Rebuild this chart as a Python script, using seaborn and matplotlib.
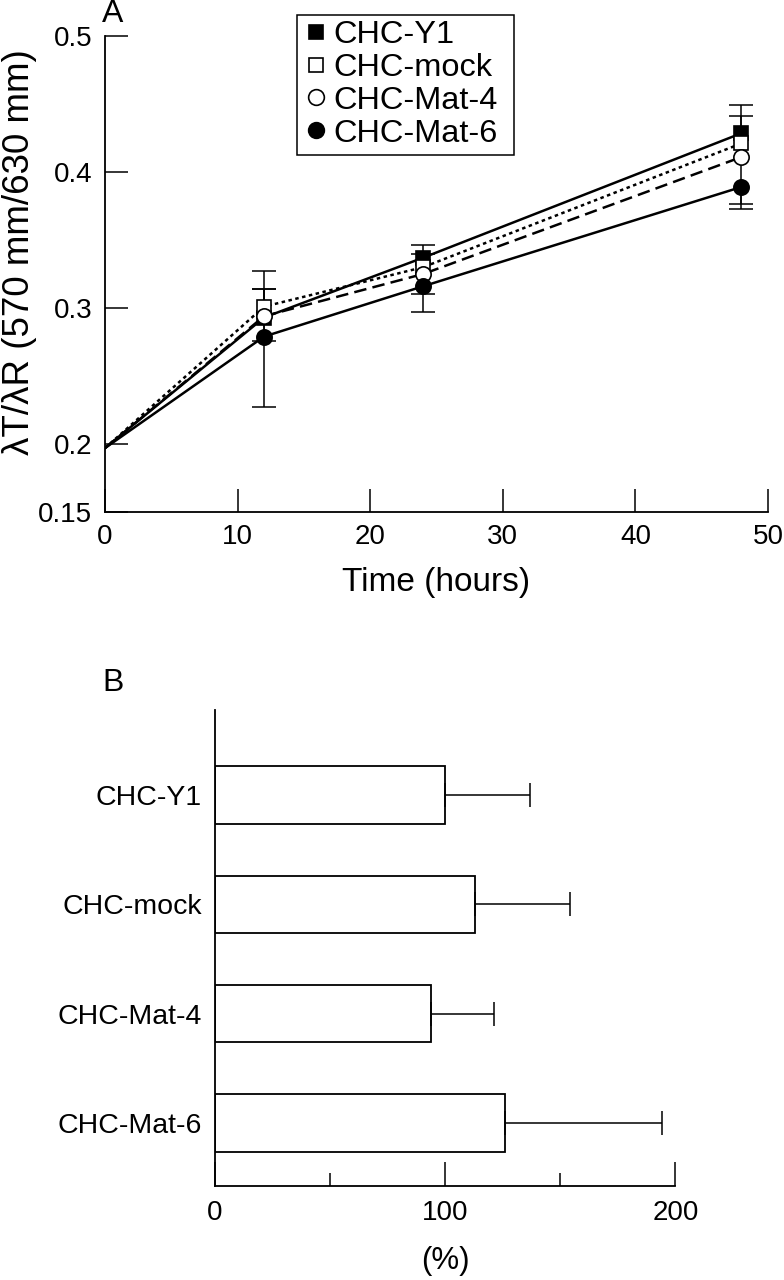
import numpy as np
import pandas as pd
import seaborn as sns
import matplotlib.pyplot as plt
from matplotlib.lines import Line2D
from matplotlib.patches import Rectangle

# panel A: ratio over time
hours = [0, 12, 24, 48]
series_names = ['CHC-Y1', 'CHC-mock', 'CHC-Mat-4', 'CHC-Mat-6']
y1_ratio = [0.197, 0.293, 0.337, 0.4285]
mock_ratio = [0.197, 0.301, 0.330, 0.421]
mat4_ratio = [0.197, 0.294, 0.325, 0.411]
mat6_ratio = [0.197, 0.279, 0.316, 0.389]
# error bars (lower / upper), as drawn in the figure
y1_lo = [0, 0.017, 0, 0]
y1_hi = [0, 0.021, 0.009, 0.021]
mock_lo = [0, 0, 0, 0]
mock_hi = [0, 0.013, 0.010, 0.020]
mat4_lo = [0, 0, 0.015, 0.038]
mat4_hi = [0, 0, 0, 0]
mat6_lo = [0, 0.052, 0.019, 0.0125]
mat6_hi = [0, 0.048, 0, 0]

# panel B: percentages
cell_lines = ['CHC-Y1', 'CHC-mock', 'CHC-Mat-4', 'CHC-Mat-6']
pct_values = [100, 113, 94, 126]
pct_err = [37, 41, 27, 68]

sns.set_style('white')
plt.rcParams['font.family'] = ['Liberation Sans', 'DejaVu Sans']
plt.rcParams['text.color'] = 'black'
plt.rcParams['axes.labelcolor'] = 'black'

fig = plt.figure(figsize=(7.84, 12.8), dpi=100)
ax1 = fig.add_axes([0.1339, 0.6, 0.8457, 0.3719])
ax2 = fig.add_axes([0.2742, 0.0737, 0.5874, 0.3716])

ratios = [y1_ratio, mock_ratio, mat4_ratio, mat6_ratio]
lows = [y1_lo, mock_lo, mat4_lo, mat6_lo]
highs = [y1_hi, mock_hi, mat4_hi, mat6_hi]
markers = ['s', 's', 'o', 'o']
faces = ['black', 'white', 'white', 'black']
styles = ['-', (0, (1.4, 1.4)), (0, (5, 2.5)), '-']
sizes = [10, 10, 11, 11]

df = pd.DataFrame({
    'time': np.tile(hours, 4),
    'ratio': np.concatenate(ratios),
    'lo': np.concatenate(lows),
    'hi': np.concatenate(highs),
    'group': np.repeat(series_names, 4),
})

for i, name in enumerate(series_names):
    sub = df[df['group'] == name]
    ax1.errorbar(sub['time'], sub['ratio'], yerr=[sub['lo'], sub['hi']], fmt='none',
                 ecolor='black', elinewidth=1.1, capsize=0, zorder=1.5)
    up = sub[sub['hi'] > 0]
    dn = sub[sub['lo'] > 0]
    ax1.plot(up['time'], up['ratio'] + up['hi'], linestyle='none', marker='_',
             markersize=17, markeredgewidth=1.1, color='black', zorder=1.5)
    ax1.plot(dn['time'], dn['ratio'] - dn['lo'], linestyle='none', marker='_',
             markersize=17, markeredgewidth=1.1, color='black', zorder=1.5)
    sns.lineplot(data=sub, x='time', y='ratio', ax=ax1, color='black', linewidth=1.8,
                 linestyle=styles[i], marker=markers[i], markersize=sizes[i],
                 markerfacecolor=faces[i], markeredgecolor='black', markeredgewidth=1.2,
                 markevery=[1, 2, 3], zorder=3 + i)

ax1.set_xlim(0, 50)
ax1.set_ylim(0.15, 0.5)
ax1.set_xticks([0, 10, 20, 30, 40, 50])
ax1.set_yticks([0.15, 0.2, 0.3, 0.4, 0.5])
ax1.set_yticklabels(['0.15', '0.2', '0.3', '0.4', '0.5'])
ax1.tick_params(bottom=True, left=True, direction='in', length=16.5, width=1.1, pad=9,
                labelsize=20, colors='black')
for s in ['top', 'right']:
    ax1.spines[s].set_visible(False)
for s in ['left', 'bottom']:
    ax1.spines[s].set_linewidth(1.3)
    ax1.spines[s].set_color('black')
ax1.set_xlabel('Time (hours)', fontsize=24)
ax1.set_ylabel('λT/λR (570 mm/630 mm)', fontsize=26.5)
ax1.xaxis.set_label_coords(0.5, -0.116)
ax1.yaxis.set_label_coords(-0.102, 0.545)

# legend: box drawn separately so it can be wider than its text
handles = [Line2D([], [], linestyle='none', marker=markers[i], markersize=sizes[i] + 0.3,
                  markerfacecolor=faces[i], markeredgecolor='black', markeredgewidth=1.2)
           for i in range(4)]
leg = ax1.legend(handles, series_names, loc='upper left',
                 bbox_to_anchor=(303 / 784, 1 - 20 / 1280), bbox_transform=fig.transFigure,
                 fontsize=23.4, frameon=False, borderpad=0,
                 handlelength=0.8, handletextpad=0.12, labelspacing=0.09, borderaxespad=0)
fig.add_artist(Rectangle((297 / 784, 1 - 155 / 1280), 217 / 784, 140 / 1280,
                         transform=fig.transFigure, fill=False, edgecolor='black',
                         linewidth=1.1))

# panel B
sns.barplot(x=pct_values, y=cell_lines, orient='h', color='white', edgecolor='black',
            linewidth=1.3, width=0.526, ax=ax2)
ax2.errorbar(pct_values, np.arange(len(cell_lines)), xerr=[np.zeros(4), pct_err],
             fmt='none', ecolor='black', elinewidth=1.1, capsize=8.3, capthick=1.1)
ax2.set_xlim(0, 200)
ax2.set_ylim(3.573, -0.777)
ax2.set_xticks([0, 100, 200])
ax2.set_xticks([50, 150], minor=True)
ax2.tick_params(axis='x', which='major', bottom=True, direction='in', length=17, width=1.1,
                pad=10, labelsize=20, colors='black')
ax2.tick_params(axis='x', which='minor', bottom=True, direction='in', length=9.4, width=1.1,
                colors='black')
ax2.tick_params(axis='y', left=False, length=0, pad=9.5, labelsize=20.5, colors='black')
for s in ['top', 'right']:
    ax2.spines[s].set_visible(False)
for s in ['left', 'bottom']:
    ax2.spines[s].set_linewidth(1.3)
    ax2.spines[s].set_color('black')
ax2.set_xlabel('(%)', fontsize=22.5)
ax2.set_ylabel('')
ax2.xaxis.set_label_coords(0.5, -0.126)

fig.text(113 / 784, 1 - 14 / 1280, 'A', ha='center', va='center', fontsize=23)
fig.text(113.5 / 784, 1 - 683 / 1280, 'B', ha='center', va='center', fontsize=23)

fig.savefig('out.png', dpi=100)
